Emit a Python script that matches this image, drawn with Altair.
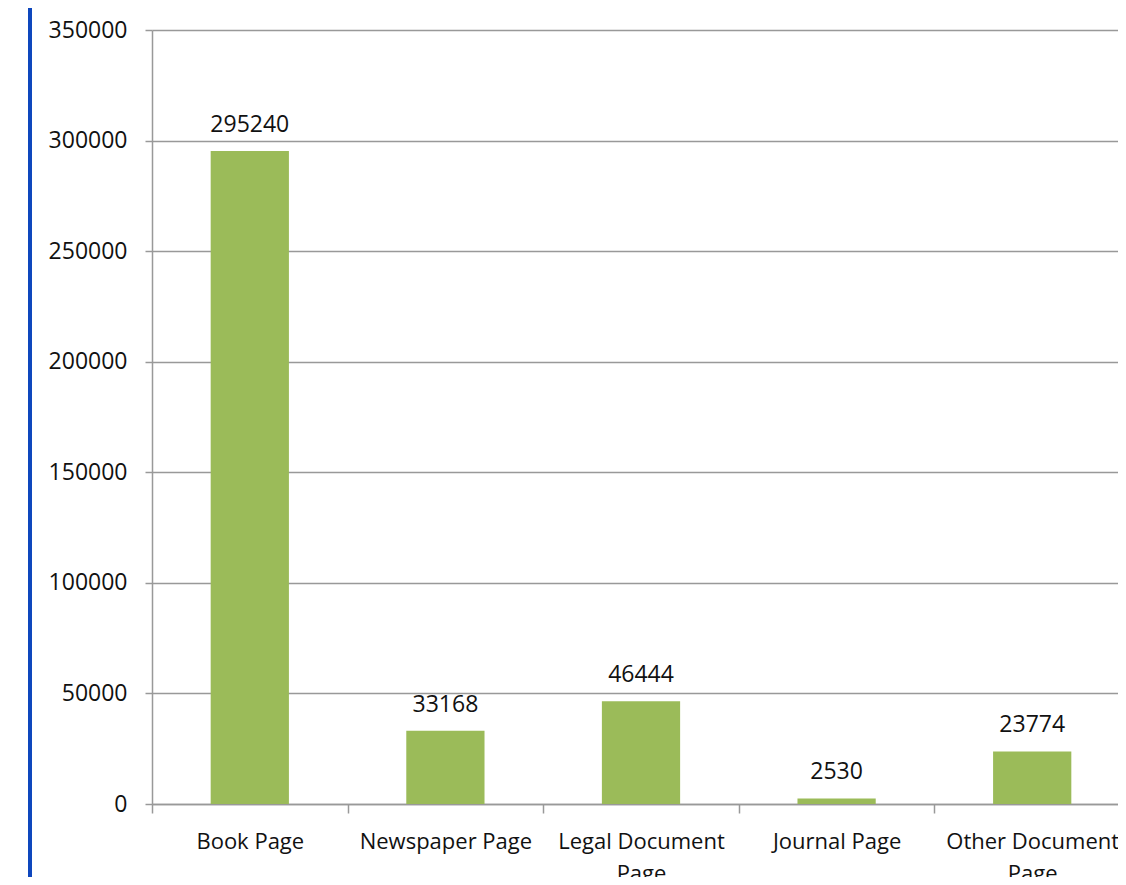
import altair as alt
import pandas as pd

categories = ["Book Page", "Newspaper Page", "Legal Document Page", "Journal Page", "Other Document Page"]
values = [295240, 33168, 46444, 2530, 23774]
label_lines = {
    "Legal Document Page": ["Legal Document", "Page"],
    "Other Document Page": ["Other Document", "Page"],
}
title_text = "Items by Type"

df = pd.DataFrame({"category": categories, "value": values})

FONT = "Open Sans"
GRAY = "#999999"
GREEN = "#9BBB59"
BLUE = "#0E47BD"
FS = 23

expr_parts = []
for k, v in label_lines.items():
    arr = "[" + ",".join("'" + s + "'" for s in v) + "]"
    expr_parts.append(f"datum.label == '{k}' ? {arr} : ")
label_expr = "".join(expr_parts) + "datum.label"

x_enc = alt.X(
    "category:N",
    sort=categories,
    scale=alt.Scale(paddingInner=0, paddingOuter=0, range=[0, 978]),
    axis=alt.Axis(
        title=None,
        labelAngle=0,
        labelFont=FONT,
        labelFontSize=22,
        labelColor="#111111",
        labelPadding=18,
        labelLineHeight=32,
        labelLimit=500,
        labelExpr=label_expr,
        tickBand="extent",
        tickSize=9,
        tickColor=GRAY,
        tickWidth=1.5,
        domainColor=GRAY,
        domainWidth=1.5,
        grid=False,
        labelOverlap=False,
    ),
)

y_enc = alt.Y(
    "value:Q",
    scale=alt.Scale(domain=[0, 350000], nice=False),
    axis=alt.Axis(
        title=None,
        values=[0, 50000, 100000, 150000, 200000, 250000, 300000, 350000],
        format="d",
        labelFont=FONT,
        labelFontSize=FS,
        labelColor="#111111",
        labelPadding=18,
        tickSize=7,
        tickColor=GRAY,
        tickWidth=1.5,
        domainColor=GRAY,
        domainWidth=1.5,
        grid=True,
        gridColor=GRAY,
        gridWidth=1.5,
    ),
)

bars = alt.Chart(df).mark_bar(color=GREEN, width=alt.RelativeBandSize(0.4)).encode(x=x_enc, y=y_enc)

labels = alt.Chart(df).mark_text(
    font=FONT, fontSize=FS, color="#111111", baseline="alphabetic", dy=-19
).encode(x=alt.X("category:N", sort=categories), y="value:Q", text=alt.Text("value:Q", format="d"))

one = pd.DataFrame({"t": [title_text]})

side_line = alt.Chart(one).mark_rule(color=BLUE, strokeWidth=4).encode(
    x=alt.value(-122), y=alt.value(-30), y2=alt.value(860)
)

title = alt.Chart(one).mark_text(
    font=FONT, fontSize=40, fontWeight="bold", color=BLUE, align="left", baseline="alphabetic"
).encode(x=alt.value(62), y=alt.value(-31), text="t:N")

chart = alt.layer(bars, labels, side_line, title).properties(
    width=966,
    height=774,
    padding={"left": 144, "top": 22, "right": 0, "bottom": 73},
    autosize=alt.AutoSizeParams(type="none"),
    background="white",
).configure_view(stroke=None)

chart.save("out.html", embed_options={"renderer": "svg", "actions": False})
